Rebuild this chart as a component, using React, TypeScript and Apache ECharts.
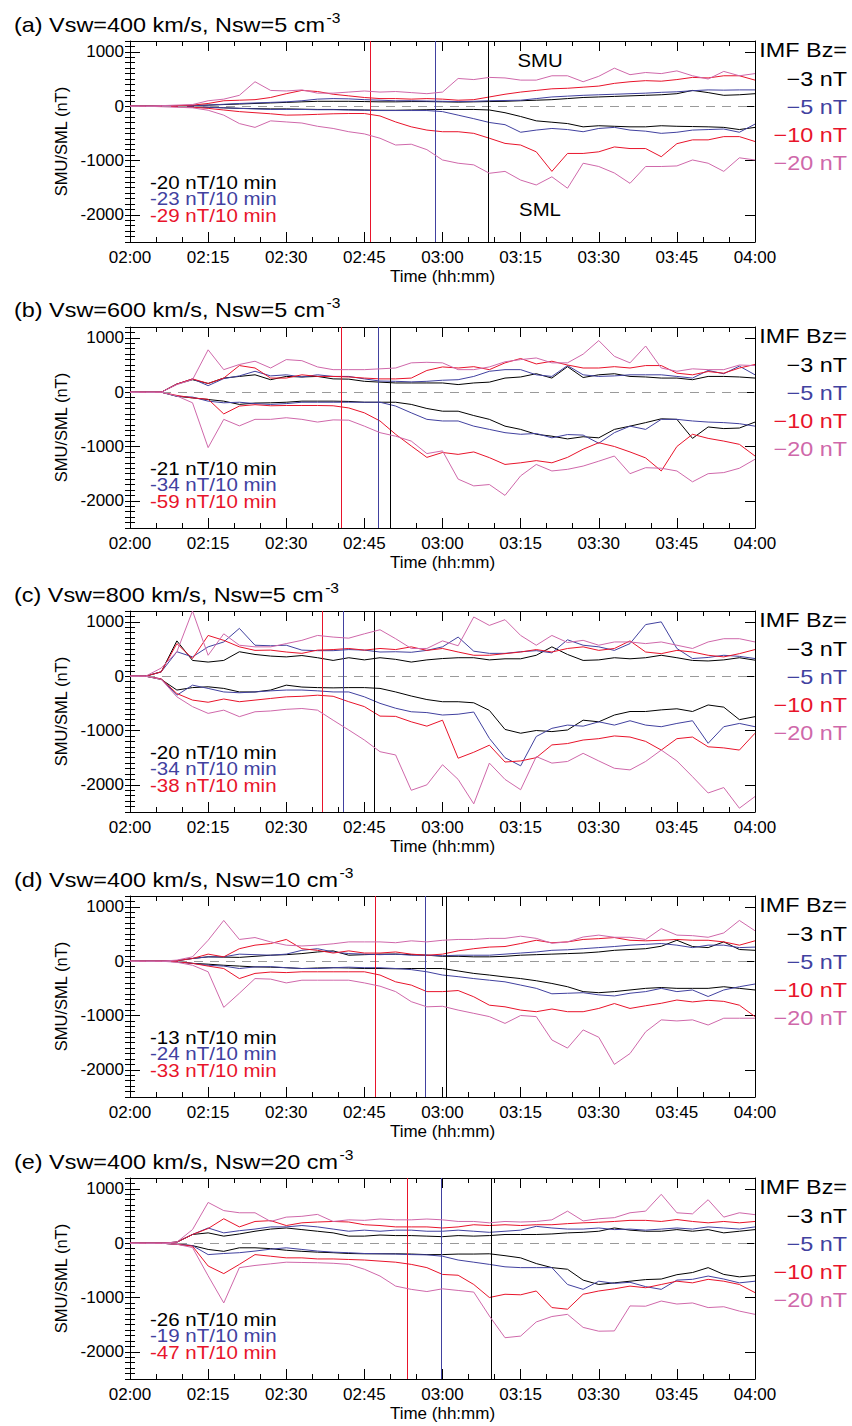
import React, { useEffect, useRef } from "react";
import * as echarts from "echarts";

// ---------- data (time in minutes after 02:00, values in nT) ----------
const timeMin = [0, 3, 6, 9, 12, 15, 18, 21, 24, 27, 30, 33, 36, 39, 42, 45, 48, 51, 54, 57, 60, 63, 66, 69, 72, 75, 78, 81, 84, 87, 90, 93, 96, 99, 102, 105, 108, 111, 114, 117, 120];
const yMajorTicks = [-2000, -1000, 0, 1000];
const bzLabels = ["\u22123 nT", "\u22125 nT", "\u221210 nT", "\u221220 nT"];

// (a) Vsw=400, Nsw=5
const a_smu_3 = [0,0,0,5,10,20,30,40,50,60,70,80,90,90,90,85,80,80,85,85,80,75,80,85,90,100,110,120,140,160,170,180,190,200,210,230,290,250,200,210,230];
const a_smu_5 = [0,0,0,5,10,20,35,50,60,70,80,100,130,140,135,120,110,100,100,95,90,85,90,100,105,110,140,170,185,200,210,220,230,240,255,265,285,300,295,300,300];
const a_smu_10 = [0,0,0,10,20,50,100,110,120,160,230,290,270,220,190,160,140,140,130,140,130,110,120,170,220,260,290,320,330,350,370,420,450,470,460,490,530,520,560,560,480];
const a_smu_20 = [0,0,10,20,30,100,130,200,450,290,280,300,240,240,260,280,260,270,250,230,260,510,490,530,520,480,480,560,560,450,550,700,580,620,600,650,560,500,640,560,600];
const a_sml_3 = [0,0,0,-5,-10,-20,-30,-40,-45,-50,-50,-55,-60,-60,-65,-70,-75,-75,-70,-65,-60,-60,-60,-70,-120,-190,-270,-295,-320,-380,-360,-370,-380,-380,-360,-370,-375,-380,-390,-430,-390];
const a_sml_5 = [0,0,0,-5,-10,-20,-30,-40,-50,-60,-60,-60,-65,-65,-70,-75,-80,-80,-80,-80,-100,-165,-230,-300,-340,-480,-440,-410,-430,-470,-410,-390,-440,-460,-500,-480,-440,-430,-420,-480,-330];
const a_sml_10 = [0,0,0,-10,-20,-40,-70,-100,-120,-140,-165,-160,-150,-140,-135,-135,-180,-290,-380,-440,-470,-470,-500,-590,-685,-715,-840,-1200,-870,-870,-840,-750,-780,-780,-930,-690,-620,-620,-560,-560,-650];
const a_sml_20 = [0,0,-10,-20,-30,-75,-165,-320,-390,-270,-290,-310,-370,-410,-470,-510,-590,-715,-700,-800,-990,-1050,-1080,-1235,-1200,-1360,-1450,-1300,-1510,-1050,-1110,-1230,-1420,-1110,-1110,-1100,-990,-1050,-1200,-950,-990];

// (b) Vsw=600, Nsw=5
const b_smu_3 = [0,0,0,150,230,160,260,290,320,230,290,280,290,245,240,200,185,170,170,170,170,140,170,185,260,280,340,260,470,270,320,340,290,280,260,260,230,290,290,280,260];
const b_smu_5 = [0,0,0,150,245,120,250,300,385,300,320,280,320,290,290,245,205,200,190,200,220,230,290,385,415,415,320,290,490,320,290,300,320,320,320,290,260,400,340,480,320];
const b_smu_10 = [0,0,0,150,245,160,260,490,445,260,260,320,290,290,280,260,245,245,260,400,465,445,470,415,540,620,520,570,500,445,445,470,445,490,490,350,320,380,350,445,510];
const b_smu_20 = [0,0,0,140,230,780,415,510,570,445,600,580,465,415,415,415,430,445,540,550,540,415,415,465,560,600,630,540,540,700,950,660,540,850,445,385,430,415,415,500,490];
const b_sml_3 = [0,0,0,-75,-105,-135,-165,-225,-200,-195,-185,-165,-165,-165,-170,-185,-185,-185,-225,-300,-350,-350,-430,-500,-625,-685,-775,-810,-860,-820,-840,-685,-625,-560,-490,-500,-850,-640,-670,-660,-550];
const b_sml_5 = [0,0,0,-75,-90,-165,-195,-185,-210,-225,-210,-185,-185,-185,-185,-185,-185,-255,-380,-500,-530,-530,-625,-685,-745,-775,-760,-840,-780,-790,-940,-745,-625,-685,-500,-500,-530,-550,-560,-580,-625];
const b_sml_10 = [0,0,0,-60,-105,-130,-400,-255,-230,-250,-245,-245,-245,-250,-290,-380,-530,-775,-990,-1200,-1110,-1145,-1100,-1205,-1330,-1300,-1260,-1300,-1200,-1050,-930,-1000,-1100,-1210,-1450,-1000,-775,-850,-900,-960,-1175];
const b_sml_20 = [0,0,0,-70,-195,-1020,-500,-620,-500,-500,-470,-500,-550,-510,-515,-625,-745,-810,-900,-1130,-1080,-1600,-1725,-1700,-1900,-1540,-1330,-1450,-1420,-1360,-1270,-1175,-1500,-1390,-1400,-1450,-1650,-1500,-1480,-1400,-1235];

// (c) Vsw=800, Nsw=5
const c_smu_3 = [0,0,80,650,290,260,290,450,400,370,355,380,340,290,340,300,340,310,260,300,325,340,340,300,320,320,385,540,400,290,300,340,320,340,385,340,290,280,300,340,295];
const c_smu_5 = [0,0,80,450,355,540,630,880,570,560,570,480,470,470,490,480,445,450,440,475,540,720,460,420,420,450,470,430,670,570,540,475,600,950,1000,510,325,345,385,365,325];
const c_smu_10 = [0,0,80,600,325,750,660,540,475,480,445,420,480,490,510,480,510,490,540,475,510,445,385,385,415,445,490,445,510,540,475,510,650,445,415,475,445,385,355,415,490];
const c_smu_20 = [0,0,150,450,1200,385,780,570,540,540,600,660,750,720,700,780,855,690,510,510,650,560,1090,935,1040,750,570,750,620,660,570,630,630,600,630,570,510,630,690,690,630];
const c_sml_3 = [0,0,-60,-255,-210,-195,-225,-290,-290,-255,-165,-200,-210,-215,-210,-210,-225,-290,-365,-430,-470,-470,-490,-630,-980,-1050,-1000,-1020,-990,-810,-840,-715,-650,-650,-620,-600,-650,-530,-570,-800,-745];
const c_sml_5 = [0,0,-50,-350,-165,-225,-290,-305,-290,-270,-255,-255,-270,-290,-290,-380,-500,-590,-655,-670,-715,-700,-660,-1145,-1500,-1650,-1110,-960,-900,-920,-840,-900,-820,-900,-930,-870,-820,-1235,-930,-870,-930];
const c_sml_10 = [0,0,-50,-320,-440,-480,-420,-470,-440,-410,-380,-370,-350,-370,-470,-560,-735,-740,-840,-920,-810,-1510,-1400,-1270,-1580,-1560,-1500,-1265,-1240,-1175,-1150,-1100,-1120,-1200,-1360,-1150,-1120,-1300,-1320,-1360,-1050];
const c_sml_20 = [0,0,-60,-380,-560,-685,-625,-745,-655,-640,-610,-595,-625,-810,-990,-1175,-1390,-1450,-2100,-2000,-1630,-1900,-2350,-1600,-1900,-2090,-1480,-1600,-1570,-1420,-1560,-1695,-1725,-1570,-1360,-1560,-1850,-2150,-2050,-2430,-2215];

// (d) Vsw=400, Nsw=10
const d_smu_3 = [0,0,0,10,50,80,75,70,90,110,120,140,170,190,110,120,130,130,120,110,90,90,80,80,90,110,120,130,140,150,170,200,215,230,275,385,270,250,355,215,200];
const d_smu_5 = [0,0,0,10,50,80,80,130,120,110,130,200,230,170,140,130,120,130,110,110,100,110,110,110,130,150,170,200,210,230,250,270,295,310,325,295,250,295,295,250,260];
const d_smu_10 = [0,0,0,10,50,130,80,230,295,325,400,230,200,150,190,150,150,170,130,110,130,190,230,260,270,325,385,340,355,400,415,435,385,375,385,400,385,385,355,295,375];
const d_smu_20 = [0,0,0,20,80,385,750,400,435,355,295,280,295,320,355,355,355,340,375,355,385,400,400,420,420,460,420,330,355,445,480,440,440,400,600,480,470,440,520,750,560];
const d_sml_3 = [0,0,0,-10,-40,-55,-75,-90,-105,-110,-120,-135,-125,-120,-125,-135,-135,-140,-135,-135,-135,-180,-225,-255,-290,-320,-360,-410,-470,-560,-580,-560,-530,-500,-485,-500,-500,-500,-470,-500,-530];
const d_sml_5 = [0,0,0,-10,-40,-75,-90,-135,-105,-100,-120,-135,-135,-120,-110,-120,-120,-135,-155,-195,-255,-285,-320,-350,-380,-440,-500,-600,-590,-580,-620,-640,-590,-560,-500,-560,-530,-650,-530,-470,-420];
const d_sml_10 = [0,0,0,-10,-40,-90,-135,-320,-225,-200,-210,-195,-195,-195,-195,-195,-255,-380,-440,-560,-560,-540,-655,-810,-840,-900,-930,-880,-930,-930,-870,-780,-870,-820,-775,-715,-750,-720,-740,-810,-1020];
const d_sml_20 = [0,0,0,-20,-75,-195,-850,-590,-320,-330,-400,-350,-350,-350,-350,-400,-460,-560,-745,-840,-830,-900,-960,-1020,-1145,-1000,-1020,-1450,-1600,-1265,-1400,-1900,-1700,-1300,-1080,-1100,-1080,-1175,-1050,-1050,-1050];

// (e) Vsw=400, Nsw=20
const e_smu_3 = [0,0,0,20,160,190,130,170,220,260,280,250,220,190,130,130,150,140,140,130,120,140,130,140,160,160,160,170,190,200,220,280,240,220,220,250,220,250,190,220,250];
const e_smu_5 = [0,0,0,20,160,280,190,230,260,300,300,325,300,260,220,240,220,240,240,220,220,240,220,200,220,240,310,280,260,260,280,250,260,240,260,280,260,300,280,260,300];
const e_smu_10 = [0,0,0,20,160,270,450,300,400,415,325,375,390,400,390,340,325,300,300,300,280,300,340,325,340,325,340,340,360,375,385,400,420,420,400,435,400,375,400,375,400];
const e_smu_20 = [0,0,0,20,250,750,600,560,560,400,480,495,530,400,430,420,445,430,430,445,430,400,400,375,400,390,400,430,590,410,450,470,560,590,900,560,540,800,480,560,525];
const e_sml_3 = [0,0,0,-20,-45,-115,-150,-85,-85,-100,-130,-150,-165,-175,-190,-195,-195,-195,-200,-210,-210,-200,-200,-195,-230,-270,-375,-450,-480,-680,-760,-730,-700,-670,-660,-580,-540,-450,-575,-620,-595];
const e_sml_5 = [0,0,0,-20,-45,-210,-190,-175,-145,-110,-85,-115,-145,-165,-175,-190,-195,-200,-210,-215,-240,-310,-350,-390,-435,-450,-450,-450,-760,-850,-700,-740,-720,-800,-850,-680,-665,-605,-660,-730,-700];
const e_sml_10 = [0,0,0,-20,-55,-420,-560,-390,-210,-240,-270,-270,-290,-290,-300,-310,-330,-350,-390,-450,-575,-590,-760,-1000,-940,-950,-880,-1185,-1215,-940,-880,-840,-790,-820,-760,-700,-730,-665,-700,-760,-910];
const e_sml_20 = [0,0,0,-20,-80,-600,-1100,-450,-410,-380,-350,-355,-360,-370,-390,-480,-605,-790,-850,-890,-840,-870,-900,-1340,-1740,-1710,-1450,-1350,-1310,-1550,-1620,-1615,-1155,-1160,-1065,-1120,-1100,-1185,-1170,-1250,-1310];

// onset times (minutes after 02:00) for Bz = -10, -5, -3 nT
const onsetA = [46.1, 58.7, 68.7];
const onsetB = [40.6, 47.7, 50.0];
const onsetC = [37.0, 41.0, 46.8];
const onsetD = [47.0, 56.6, 60.7];
const onsetE = [53.3, 59.7, 69.4];

// decline rates (nT/10 min) for Bz = -3, -5, -10 nT
const rateA = [-20, -23, -29];
const rateB = [-21, -34, -59];
const rateC = [-20, -34, -38];
const rateD = [-13, -24, -33];
const rateE = [-26, -19, -47];

const panelLetters = ["a", "b", "c", "d", "e"];
const panelVsw = [400, 600, 800, 400, 400];
const panelNsw = [5, 5, 5, 10, 20];

// ---------- styling ----------
const FONT = '"Liberation Sans", Arial, Helvetica, sans-serif';
const COLORS = ["#000000", "#41419f", "#e8142b", "#cf68aa"];
const ONSET_COLORS = ["#e8142b", "#41419f", "#000000"];
const GRID_TOPS = [41, 327, 611, 896, 1178];
const GRID_LEFT = 130;
const GRID_W = 625;
const GRID_H = 201;

const panels = [
  { smu: [a_smu_3, a_smu_5, a_smu_10, a_smu_20], sml: [a_sml_3, a_sml_5, a_sml_10, a_sml_20], onset: onsetA, rate: rateA },
  { smu: [b_smu_3, b_smu_5, b_smu_10, b_smu_20], sml: [b_sml_3, b_sml_5, b_sml_10, b_sml_20], onset: onsetB, rate: rateB },
  { smu: [c_smu_3, c_smu_5, c_smu_10, c_smu_20], sml: [c_sml_3, c_sml_5, c_sml_10, c_sml_20], onset: onsetC, rate: rateC },
  { smu: [d_smu_3, d_smu_5, d_smu_10, d_smu_20], sml: [d_sml_3, d_sml_5, d_sml_10, d_sml_20], onset: onsetD, rate: rateD },
  { smu: [e_smu_3, e_smu_5, e_smu_10, e_smu_20], sml: [e_sml_3, e_sml_5, e_sml_10, e_sml_20], onset: onsetE, rate: rateE },
];

function measure(text: string, size: number): number {
  const c = document.createElement("canvas").getContext("2d");
  if (!c) return text.length * size * 0.55;
  c.font = `${size}px "Liberation Sans", Arial, sans-serif`;
  return c.measureText(text).width;
}

function fmtTime(v: number): string {
  const h = 2 + Math.floor(v / 60);
  const m = Math.round(v % 60);
  return `0${h}:${m < 10 ? "0" + m : m}`;
}

function buildOption() {
  const grid: any[] = [];
  const xAxis: any[] = [];
  const yAxis: any[] = [];
  const series: any[] = [];
  const graphic: any[] = [];

  panels.forEach((p, i) => {
    const top = GRID_TOPS[i];
    grid.push({ left: GRID_LEFT, top, width: GRID_W, height: GRID_H });

    const xBase = {
      type: "value",
      gridIndex: i,
      min: 0,
      max: 120,
      interval: 15,
      axisLine: { show: true, onZero: false, lineStyle: { color: "#000", width: 1 } },
      axisTick: { show: true, inside: true, length: 10, lineStyle: { color: "#000", width: 1 } },
      minorTick: { show: true, splitNumber: 3, length: 5, lineStyle: { color: "#000", width: 1 } },
      splitLine: { show: false },
      minorSplitLine: { show: false },
    };
    xAxis.push({
      ...xBase,
      position: "bottom",
      axisLabel: { formatter: fmtTime, fontSize: 17, color: "#000", fontFamily: FONT, margin: 7 },
      name: "Time (hh:mm)",
      nameLocation: "middle",
      nameGap: 26,
      nameTextStyle: { fontSize: 17, color: "#000", fontFamily: FONT },
    });
    xAxis.push({ ...xBase, position: "top", axisLabel: { show: false } });

    const yBase = { type: "value", gridIndex: i, min: -2500, max: 1200, splitLine: { show: false } };
    yAxis.push({
      ...yBase,
      position: "left",
      axisLine: { show: true, onZero: false, lineStyle: { color: "#000", width: 1 } },
      axisTick: { show: true, inside: true, length: 10, customValues: yMajorTicks, lineStyle: { color: "#000" } },
      axisLabel: {
        customValues: yMajorTicks,
        formatter: (v: number) => String(v),
        fontSize: 17,
        color: "#000",
        fontFamily: FONT,
        margin: 6,
      },
      name: "SMU/SML (nT)",
      nameLocation: "middle",
      nameRotate: 90,
      nameGap: 57,
      nameTextStyle: { fontSize: 16.5, color: "#000", fontFamily: FONT },
    });
    yAxis.push({
      ...yBase,
      position: "left",
      interval: 100,
      axisLine: { show: false },
      axisTick: { show: true, inside: true, length: 5, lineStyle: { color: "#000" } },
      axisLabel: { show: false },
    });
    yAxis.push({
      ...yBase,
      position: "right",
      axisLine: { show: true, onZero: false, lineStyle: { color: "#000", width: 1 } },
      axisTick: { show: true, inside: true, length: 10, customValues: yMajorTicks, lineStyle: { color: "#000" } },
      axisLabel: { show: false },
    });
    yAxis.push({
      ...yBase,
      position: "right",
      interval: 100,
      axisLine: { show: false },
      axisTick: { show: true, inside: true, length: 5, lineStyle: { color: "#000" } },
      axisLabel: { show: false },
    });

    // dashed zero line
    series.push({
      type: "line",
      xAxisIndex: 2 * i,
      yAxisIndex: 4 * i,
      data: [],
      silent: true,
      z: 1,
      markLine: {
        silent: true,
        symbol: ["none", "none"],
        label: { show: false },
        emphasis: { disabled: true },
        lineStyle: { color: "#9a9a9a", type: [9, 7], width: 1 },
        data: [{ yAxis: 0 }],
      },
    });
    // onset markers (Bz = -10, -5, -3 nT)
    p.onset.forEach((t, k) => {
      series.push({
        type: "line",
        xAxisIndex: 2 * i,
        yAxisIndex: 4 * i,
        data: [],
        silent: true,
        z: 6,
        color: ONSET_COLORS[k],
        markLine: {
          silent: true,
          symbol: ["none", "none"],
          label: { show: false },
          emphasis: { disabled: true },
          lineStyle: { color: ONSET_COLORS[k], type: "solid", width: 1, opacity: 1 },
          data: [{ xAxis: t }],
        },
      });
    });

    for (let j = 0; j < 4; j++) {
      [p.smu[j], p.sml[j]].forEach((arr) => {
        series.push({
          type: "line",
          xAxisIndex: 2 * i,
          yAxisIndex: 4 * i,
          data: timeMin.map((t, k) => [t, arr[k]]),
          showSymbol: false,
          symbol: "none",
          silent: true,
          z: 2 + j,
          lineStyle: { color: COLORS[j], width: 1 },
          clip: true,
        });
      });
    }

    // title with superscript
    const titleText = `(${panelLetters[i]}) Vsw=${panelVsw[i]} km/s, Nsw=${panelNsw[i]} cm`;
    const tSize = 21;
    const tScale = 1.115;
    const tY = top - (i === 1 ? 17.5 : 16.5);
    graphic.push({
      type: "text",
      x: 14,
      y: tY,
      scaleX: tScale,
      silent: true,
      style: { text: titleText, fill: "#000", fontSize: tSize, fontFamily: FONT, align: "left", verticalAlign: "middle" },
    });
    graphic.push({
      type: "text",
      x: 14 + measure(titleText, tSize) * tScale + 1.5,
      y: tY - 6,
      scaleX: tScale,
      silent: true,
      style: { text: "-3", fill: "#000", fontSize: 14, fontFamily: FONT, align: "left", verticalAlign: "middle" },
    });

    // legend on the right
    const legTexts = ["IMF Bz=", ...bzLabels];
    const legColors = ["#000", ...COLORS];
    legTexts.forEach((tx, k) => {
      graphic.push({
        type: "text",
        x: 847,
        y: top + 9.5 + 28.2 * k,
        scaleX: 1.17,
        silent: true,
        style: { text: tx, fill: legColors[k], fontSize: 20, fontFamily: FONT, align: "right", verticalAlign: "middle" },
      });
    });

    // decline rates
    p.rate.forEach((r, k) => {
      graphic.push({
        type: "text",
        x: 150,
        y: top + 141 + 16.4 * k,
        scaleX: 1.08,
        silent: true,
        style: { text: `${r} nT/10 min`, fill: COLORS[k], fontSize: 19, fontFamily: FONT, align: "left", verticalAlign: "middle" },
      });
    });

    if (i === 0) {
      [["SMU", top + 19.3], ["SML", top + 168.5]].forEach(([tx, yy]) => {
        graphic.push({
          type: "text",
          x: 540,
          y: yy as number,
          scaleX: 1.1,
          silent: true,
          style: { text: tx as string, fill: "#000", fontSize: 18.5, fontFamily: FONT, align: "center", verticalAlign: "middle" },
        });
      });
    }
  });

  return {
    animation: false,
    backgroundColor: "#ffffff",
    textStyle: { fontFamily: FONT },
    grid,
    xAxis,
    yAxis,
    series,
    graphic: { elements: graphic },
  };
}

export default function App() {
  const ref = useRef<HTMLDivElement>(null);
  useEffect(() => {
    if (!ref.current) return;
    const chart = echarts.init(ref.current, undefined, { renderer: "svg" });
    chart.setOption(buildOption() as any);
    return () => chart.dispose();
  }, []);
  return (
    <div
      ref={ref}
      style={{ position: "absolute", left: 0, top: 0, width: 852, height: 1426, background: "#fff" }}
    />
  );
}
